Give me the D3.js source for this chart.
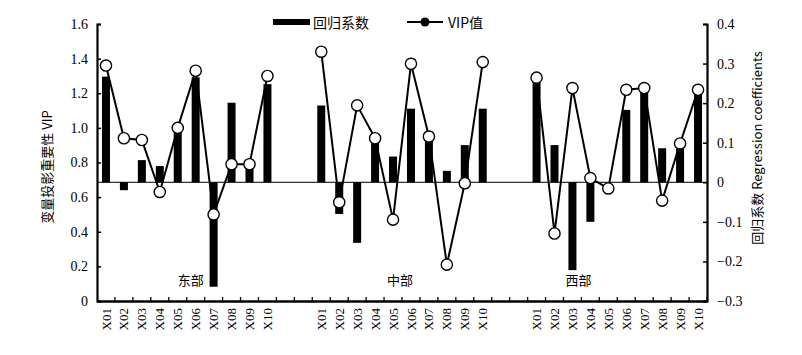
<!DOCTYPE html>
<html><head><meta charset="utf-8">
<script src="https://cdn.jsdelivr.net/npm/d3@7"></script>
<style>
body{margin:0;background:#fff;}
text{font-family:"Liberation Serif","Times New Roman",serif;fill:#000;}
.cn{font-family:"Noto Sans CJK SC",sans-serif;}
</style></head>
<body><svg id="c" width="802" height="355"></svg>
<script>
const categories = ["X01","X02","X03","X04","X05","X06","X07","X08","X09","X10"];
const regions = ["东部","中部","西部"];
const coefEast = [0.267,-0.02,0.056,0.041,0.13,0.265,-0.264,0.201,0.058,0.248];
const coefMid  = [0.194,-0.08,-0.153,0.10,0.065,0.186,0.128,0.029,0.094,0.186];
const coefWest = [0.255,0.094,-0.222,-0.10,0,0.183,0.229,0.086,0.085,0.225];
const vipEast = [1.36,0.94,0.93,0.63,1.00,1.33,0.50,0.79,0.79,1.30];
const vipMid  = [1.44,0.57,1.13,0.94,0.47,1.37,0.95,0.21,0.68,1.38];
const vipWest = [1.29,0.39,1.23,0.71,0.65,1.22,1.23,0.58,0.91,1.22];
const vipTicks = [0,0.2,0.4,0.6,0.8,1.0,1.2,1.4,1.6];
const coefTicks = [-0.3,-0.2,-0.1,0,0.1,0.2,0.3,0.4];
const legendLabels = ["回归系数","VIP值"];
const axisTitleLeft = "变量投影重要性 VIP";
const axisTitleRight = "回归系数 Regression coefficients";
const regionLabelAt = ["X06","X06","X04"];

const coefs = [coefEast, coefMid, coefWest];
const vips = [vipEast, vipMid, vipWest];

const svg = d3.select("#c");
const L = 97, R = 707, T = 24, B = 301;

// band domain: 10 categories per region + 2 empty slots between regions
const domain = [];
regions.forEach((r, ri) => {
  categories.forEach(c => domain.push(r + "|" + c));
  if (ri < regions.length - 1) { domain.push("gap" + ri + "a"); domain.push("gap" + ri + "b"); }
});
const x = d3.scaleBand().domain(domain).range([L, R]).padding(0);
const yL = d3.scaleLinear().domain([0, 1.6]).range([B, T]);
const yR = d3.scaleLinear().domain([-0.3, 0.4]).range([B, T]);

const bw = 8;

// bars
const barData = [];
regions.forEach((r, ri) => categories.forEach((c, ci) => barData.push({key: r + "|" + c, v: coefs[ri][ci]})));
svg.append("g").selectAll("rect").data(barData).join("rect")
  .attr("x", d => x(d.key) + x.bandwidth() / 2 - bw / 2)
  .attr("width", bw)
  .attr("y", d => Math.min(yR(d.v), yR(0)))
  .attr("height", d => Math.abs(yR(d.v) - yR(0)))
  .attr("fill", "#000");

// zero line of coefficient axis
svg.append("line").attr("x1", L).attr("x2", R).attr("y1", yR(0)).attr("y2", yR(0))
  .attr("stroke", "#000").attr("stroke-width", 1);

// VIP lines + circles per region
const line = d3.line().x(d => x(d.key) + x.bandwidth() / 2).y(d => yL(d.v));
regions.forEach((r, ri) => {
  const pts = categories.map((c, ci) => ({key: r + "|" + c, v: vips[ri][ci]}));
  svg.append("path").datum(pts).attr("d", line).attr("fill", "none")
    .attr("stroke", "#000").attr("stroke-width", 2);
  svg.append("g").selectAll("circle").data(pts).join("circle")
    .attr("cx", d => x(d.key) + x.bandwidth() / 2).attr("cy", d => yL(d.v))
    .attr("r", 5.6).attr("fill", "#fff").attr("stroke", "#000").attr("stroke-width", 1.4);
});

// region labels
const regionOffsets = [4, -2, -3];
regions.forEach((r, ri) => {
  const cx = x(r + "|" + regionLabelAt[ri]) + regionOffsets[ri];
  svg.append("text").attr("class", "cn").attr("x", cx).attr("y", 285)
    .attr("text-anchor", "middle").attr("font-size", 13).text(r);
});

// left axis
const gl = svg.append("g").attr("transform", `translate(${L},0)`)
  .call(d3.axisLeft(yL).tickValues(vipTicks).tickSize(-4).tickPadding(9)
    .tickFormat(d => d === 0 ? "0" : d3.format(".1f")(d)));
gl.select(".domain").attr("stroke-width", 2.2);
gl.selectAll(".tick line").attr("stroke-width", 1.5);
gl.selectAll("text").attr("font-size", 14).attr("font-family", "Liberation Serif");

// right axis
const gr = svg.append("g").attr("transform", `translate(${R},0)`)
  .call(d3.axisRight(yR).tickValues(coefTicks).tickSize(-4).tickPadding(10)
    .tickFormat(d => d === 0 ? "0" : d3.format(".1f")(d)));
gr.select(".domain").attr("stroke-width", 2.2);
gr.selectAll(".tick line").attr("stroke-width", 1.5);
gr.selectAll("text").attr("font-size", 14).attr("font-family", "Liberation Serif");

// bottom axis
const gb = svg.append("g").attr("transform", `translate(0,${B})`)
  .call(d3.axisBottom(x).tickSize(0).tickPadding(6)
    .tickFormat(d => d.startsWith("gap") ? "" : d.split("|")[1]));
gb.select(".domain").attr("stroke-width", 2.4);
gb.selectAll("text").attr("font-size", 13).attr("font-family", "Liberation Serif")
  .attr("transform", "rotate(-90)").attr("text-anchor", "end")
  .attr("x", -7).attr("y", 0).attr("dy", "0.35em");
// boundary ticks (inward)
svg.append("g").selectAll("line").data(domain.slice(1).concat(["_end"])).join("line")
  .attr("x1", d => d === "_end" ? R : x(d)).attr("x2", d => d === "_end" ? R : x(d))
  .attr("y1", B).attr("y2", B - 4).attr("stroke", "#000").attr("stroke-width", 1.3);

// axis titles
svg.append("text").attr("class", "cn").attr("transform", "translate(52,167) rotate(-90)")
  .attr("text-anchor", "middle").attr("font-size", 13).text(axisTitleLeft);
svg.append("text").attr("class", "cn").attr("transform", "translate(762,148) rotate(-90)")
  .attr("text-anchor", "middle").attr("font-size", 13).text(axisTitleRight);

// legend
svg.append("rect").attr("x", 273).attr("y", 19).attr("width", 37).attr("height", 6).attr("fill", "#000");
svg.append("text").attr("class", "cn").attr("x", 313).attr("y", 28).attr("font-size", 14).text(legendLabels[0]);
svg.append("line").attr("x1", 407).attr("x2", 443).attr("y1", 22).attr("y2", 22).attr("stroke", "#000").attr("stroke-width", 2);
svg.append("circle").attr("cx", 425).attr("cy", 22).attr("r", 4.5).attr("fill", "#000");
svg.append("text").attr("class", "cn").attr("x", 448).attr("y", 28).attr("font-size", 14).text(legendLabels[1]);
</script></body></html>
